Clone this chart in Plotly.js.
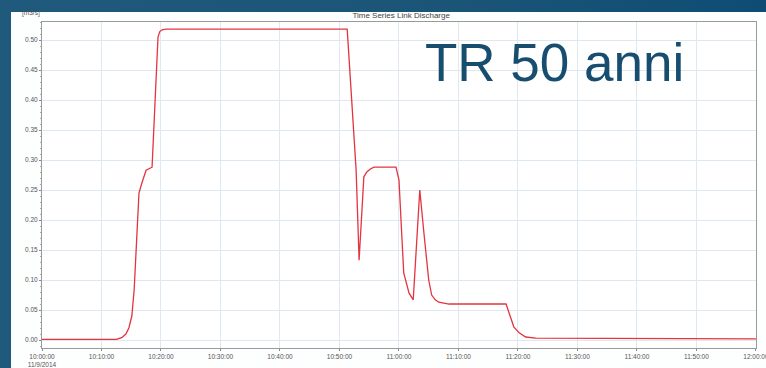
<!DOCTYPE html>
<html>
<head>
<meta charset="utf-8">
<script src="https://cdn.plot.ly/plotly-3.0.1.min.js"></script>
<style>
html,body{margin:0;padding:0;width:766px;height:368px;overflow:hidden;background:linear-gradient(90deg,#1f5a7c 0%,#1a5577 60%,#0f4c74 100%);}
#panel{position:absolute;left:11px;top:12px;width:755px;height:356px;background:#fdfefe;}
#chart{position:absolute;left:0;top:0;width:766px;height:368px;}
</style>
</head>
<body>
<div id="panel"></div>
<div id="chart"></div>
<script>
// Time series (date 2014-11-09) and discharge [m3/s]
const times = [
  "10:00:00","10:12:30","10:13:24","10:14:06","10:14:36","10:15:06","10:15:30","10:15:48","10:16:18","10:16:48","10:17:30",
  "10:18:30","10:19:12","10:19:30","10:19:48","10:20:12","10:20:48","10:51:18","10:52:48","10:53:18",
  "10:54:06","10:54:36","10:55:12","10:55:48","10:59:30","11:00:00","11:00:48","11:01:42","11:02:24",
  "11:03:30","11:04:12","11:05:00","11:05:30","11:06:06","11:06:42","11:08:24","11:18:00","11:18:30",
  "11:19:18","11:20:12","11:21:18","11:23:00","12:00:00"
];
const discharge = [
  0.001,0.001,0.004,0.010,0.020,0.040,0.085,0.145,0.245,0.262,0.283,
  0.288,0.450,0.505,0.514,0.517,0.518,0.518,0.283,0.133,
  0.272,0.280,0.285,0.288,0.288,0.267,0.112,0.078,0.067,
  0.250,0.178,0.100,0.075,0.067,0.063,0.060,0.060,0.045,
  0.022,0.012,0.005,0.003,0.002
];
const tickTimes = ["10:00:00","10:10:00","10:20:00","10:30:00","10:40:00","10:50:00","11:00:00",
  "11:10:00","11:20:00","11:30:00","11:40:00","11:50:00","12:00:00"];
const tickLabels = ["10:00:00<br>11/9/2014","10:10:00","10:20:00","10:30:00","10:40:00","10:50:00","11:00:00",
  "11:10:00","11:20:00","11:30:00","11:40:00","11:50:00","12:00:00"];
const yTicks = [0,0.05,0.10,0.15,0.20,0.25,0.30,0.35,0.40,0.45,0.50];
const day = "2014-11-09 ";

const trace = {
  x: times.map(t => day + t),
  y: discharge,
  type: "scatter",
  mode: "lines",
  line: {color: "#e3343f", width: 1.3},
  hoverinfo: "skip"
};

const layout = {
  width: 766, height: 368,
  margin: {l: 42, r: 10, t: 22, b: 20},
  paper_bgcolor: "rgba(0,0,0,0)",
  plot_bgcolor: "#ffffff",
  showlegend: false,
  font: {family: "Liberation Sans, Arial, sans-serif", color: "#555555", size: 7},
  title: {text: "Time Series Link Discharge", font: {size: 8, color: "#444444"},
          x: 0.503, xref: "paper", y: 0.96, yref: "container", xanchor: "center", yanchor: "middle"},
  xaxis: {
    type: "date",
    range: [day + "10:00:00", day + "12:00:00.8"],
    tickmode: "array",
    tickvals: tickTimes.map(t => day + t),
    ticktext: tickLabels,
    ticks: "outside", ticklen: 2, tickcolor: "#888",
    ticklabeloverflow: "allow",
    tickfont: {size: 6.5, color: "#555"},
    showgrid: true, gridcolor: "#dfe7f0", gridwidth: 1,
    showline: true, linecolor: "#9a9a9a", linewidth: 1, mirror: true,
    zeroline: false, fixedrange: true
  },
  yaxis: {
    range: [-0.0133, 0.53],
    tickmode: "array",
    tickvals: yTicks,
    ticktext: yTicks.map(v => v.toFixed(2)),
    ticks: "outside", ticklen: 2, tickcolor: "#888",
    tickfont: {size: 6.5, color: "#555"},
    showgrid: true, gridcolor: "#dfe7f0", gridwidth: 1,
    showline: true, linecolor: "#9a9a9a", linewidth: 1, mirror: true,
    zeroline: false, fixedrange: true,
    minor: {dtick: 0.01, ticks: "outside", ticklen: 1.5, tickcolor: "#aaa", showgrid: false}
  },
  annotations: [
    {text: "TR 50 anni", xref: "paper", yref: "paper", x: 0.718, y: 0.877,
     xanchor: "center", yanchor: "middle", showarrow: false,
     font: {family: "Liberation Sans, Arial, sans-serif", size: 53, color: "#174e70"}},
    {text: "[m3/s]", xref: "paper", yref: "paper", x: -0.015, y: 1.028,
     xanchor: "center", yanchor: "middle", showarrow: false,
     font: {size: 6.5, color: "#555"}}
  ]
};

Plotly.newPlot("chart", [trace], layout, {staticPlot: true, displayModeBar: false});
</script>
</body>
</html>
